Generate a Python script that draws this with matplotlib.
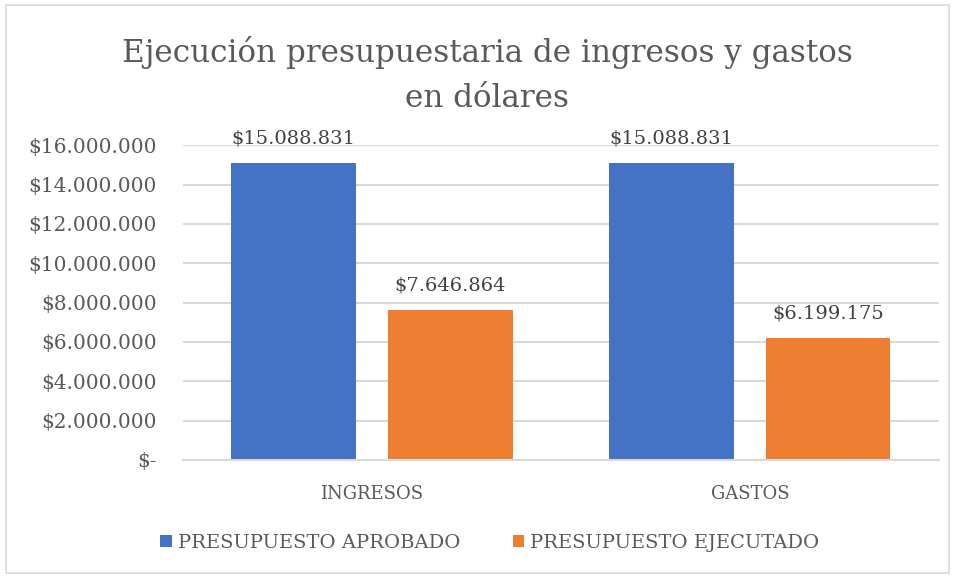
import numpy as np
import matplotlib.pyplot as plt
from matplotlib.patches import Rectangle

categorias = ["INGRESOS", "GASTOS"]
series = ["PRESUPUESTO APROBADO", "PRESUPUESTO EJECUTADO"]
aprobado = [15088831, 15088831]
ejecutado = [7646864, 6199175]
colores = ["#4472C4", "#ED7D31"]
titulo = "Ejecución presupuestaria de ingresos y gastos\nen dólares"


def fmt_dolar(v):
    if v == 0:
        return "$-"
    return "$" + f"{v:,.0f}".replace(",", ".")


texto = "#595959"
fig = plt.figure(figsize=(9.55, 5.76), dpi=100)
fig.patches.append(Rectangle((0.006, 0.006), 0.988, 0.985, transform=fig.transFigure,
                             fill=False, edgecolor="#d9d9d9", linewidth=1.2))
ax = fig.add_axes([0.1916, 0.2014, 0.7914, 0.5466])

x = np.arange(len(categorias))
w = 0.33
off = 0.207
b1 = ax.bar(x - off, aprobado, w, color=colores[0], label=series[0])
b2 = ax.bar(x + off, ejecutado, w, color=colores[1], label=series[1])

for bars in (b1, b2):
    for r in bars:
        ax.annotate(fmt_dolar(r.get_height()), (r.get_x() + r.get_width() / 2, r.get_height()),
                    xytext=(0, 11), textcoords="offset points", ha="center", va="bottom",
                    fontsize=14, color="#404040", family="DejaVu Serif")

ax.set_xlim(-0.5, 1.5)
ax.set_ylim(0, 16000000)
yt = np.arange(0, 16000001, 2000000)
ax.set_yticks(yt)
ax.set_yticklabels([fmt_dolar(v) for v in yt], family="DejaVu Serif", fontsize=14.5, color=texto)
ax.set_xticks(x)
ax.set_xticklabels(categorias, family="DejaVu Serif", fontsize=13, color=texto)
ax.tick_params(axis="y", length=0, pad=19)
ax.tick_params(axis="x", length=0, pad=18)
ax.grid(axis="y", color="#d9d9d9", linewidth=1.5)
ax.set_axisbelow(True)
for s in ["top", "right", "left"]:
    ax.spines[s].set_visible(False)
ax.spines["bottom"].set_color("#d9d9d9")
ax.spines["bottom"].set_linewidth(1.5)

fig.text(0.51, 0.87, titulo, ha="center", va="center", fontsize=22.3, color="#595959",
         family="DejaVu Serif", linespacing=1.6)

fig.legend(loc="center", bbox_to_anchor=(0.513, 0.058), ncol=2, frameon=False,
           prop={"family": "DejaVu Serif", "size": 14}, labelcolor=texto,
           handlelength=0.6, handleheight=0.6, handletextpad=0.3, columnspacing=2.7)

fig.savefig("out.png", dpi=100)
